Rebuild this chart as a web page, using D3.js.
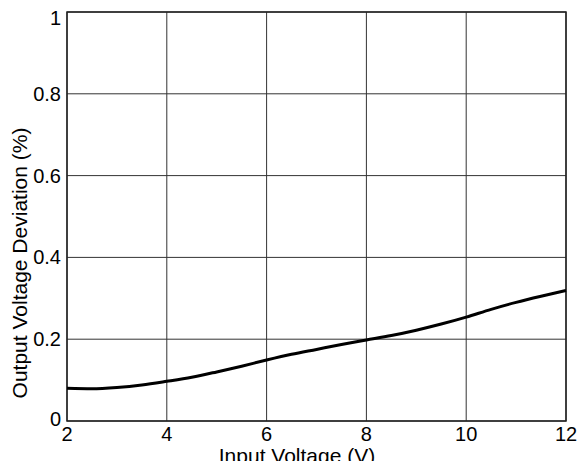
<!DOCTYPE html>
<html>
<head>
<meta charset="utf-8">
<script src="https://cdn.jsdelivr.net/npm/d3@7"></script>
<style>
  html, body { margin: 0; padding: 0; background: #fff; }
  svg { display: block; font-family: "Liberation Sans", Arial, sans-serif; }
</style>
</head>
<body>
<svg id="chart" width="588" height="461"></svg>
<script>
// input voltage (V) and output voltage deviation (%)
const inputVoltage = [2, 2.5, 3, 3.5, 4, 4.5, 5, 5.5, 6, 6.5, 7, 7.5, 8, 8.5, 9, 9.5, 10, 10.5, 11, 11.5, 12];
const deviation = [0.080, 0.079, 0.082, 0.088, 0.097, 0.107, 0.120, 0.134, 0.149, 0.163, 0.175, 0.187, 0.198, 0.209, 0.222, 0.237, 0.254, 0.273, 0.290, 0.305, 0.319];
const xTicks = [2, 4, 6, 8, 10, 12];
const yTicks = [0, 0.2, 0.4, 0.6, 0.8, 1];
const yTickLabels = ['0', '0.2', '0.4', '0.6', '0.8', '1'];

const margin = { left: 67, right: 22, top: 12, bottom: 40 };
const width = 588, height = 461;

const svg = d3.select('#chart');

const x = d3.scaleLinear().domain([2, 12]).range([margin.left, width - margin.right]);
const y = d3.scaleLinear().domain([0, 1]).range([height - margin.bottom, margin.top]);

// grid
svg.append('g')
    .classed('grid-x', true)
    .selectAll('line')
    .data(xTicks)
    .enter()
    .append('line')
    .attr('x1', d => x(d))
    .attr('x2', d => x(d))
    .attr('y1', y(0))
    .attr('y2', y(1))
    .attr('stroke', '#333')
    .attr('stroke-width', 1);

svg.append('g')
    .classed('grid-y', true)
    .selectAll('line')
    .data(yTicks)
    .enter()
    .append('line')
    .attr('x1', x(2))
    .attr('x2', x(12))
    .attr('y1', d => y(d))
    .attr('y2', d => y(d))
    .attr('stroke', '#333')
    .attr('stroke-width', 1);

// frame
svg.append('rect')
    .attr('x', x(2))
    .attr('y', y(1))
    .attr('width', x(12) - x(2))
    .attr('height', y(0) - y(1))
    .attr('fill', 'none')
    .attr('stroke', '#222')
    .attr('stroke-width', 1.5);

// tick labels
svg.append('g')
    .selectAll('text')
    .data(xTicks)
    .enter()
    .append('text')
    .attr('x', d => x(d))
    .attr('y', y(0) + 20)
    .attr('text-anchor', 'middle')
    .attr('font-size', 20)
    .text(d => d);

svg.append('g')
    .selectAll('text')
    .data(yTicks)
    .enter()
    .append('text')
    .attr('x', margin.left - 6)
    .attr('y', d => y(d) + (d === 1 ? 13 : (d === 0 ? 5 : 7)))
    .attr('text-anchor', 'end')
    .attr('font-size', 20)
    .text((d, i) => yTickLabels[i]);

// axis titles (the x title runs off the bottom edge, as in the source image)
svg.append('text')
    .attr('x', 297)
    .attr('y', 463)
    .attr('text-anchor', 'middle')
    .attr('font-size', 21)
    .text('Input Voltage (V)');

svg.append('text')
    .attr('transform', 'translate(27, 263) rotate(-90)')
    .attr('text-anchor', 'middle')
    .attr('font-size', 21)
    .text('Output Voltage Deviation (%)');

// curve
const line = d3.line()
    .x(d => x(d[0]))
    .y(d => y(d[1]))
    .curve(d3.curveMonotoneX);

svg.append('path')
    .datum(inputVoltage.map((v, i) => [v, deviation[i]]))
    .attr('d', line)
    .attr('fill', 'none')
    .attr('stroke', '#000')
    .attr('stroke-width', 3);
</script>
</body>
</html>
